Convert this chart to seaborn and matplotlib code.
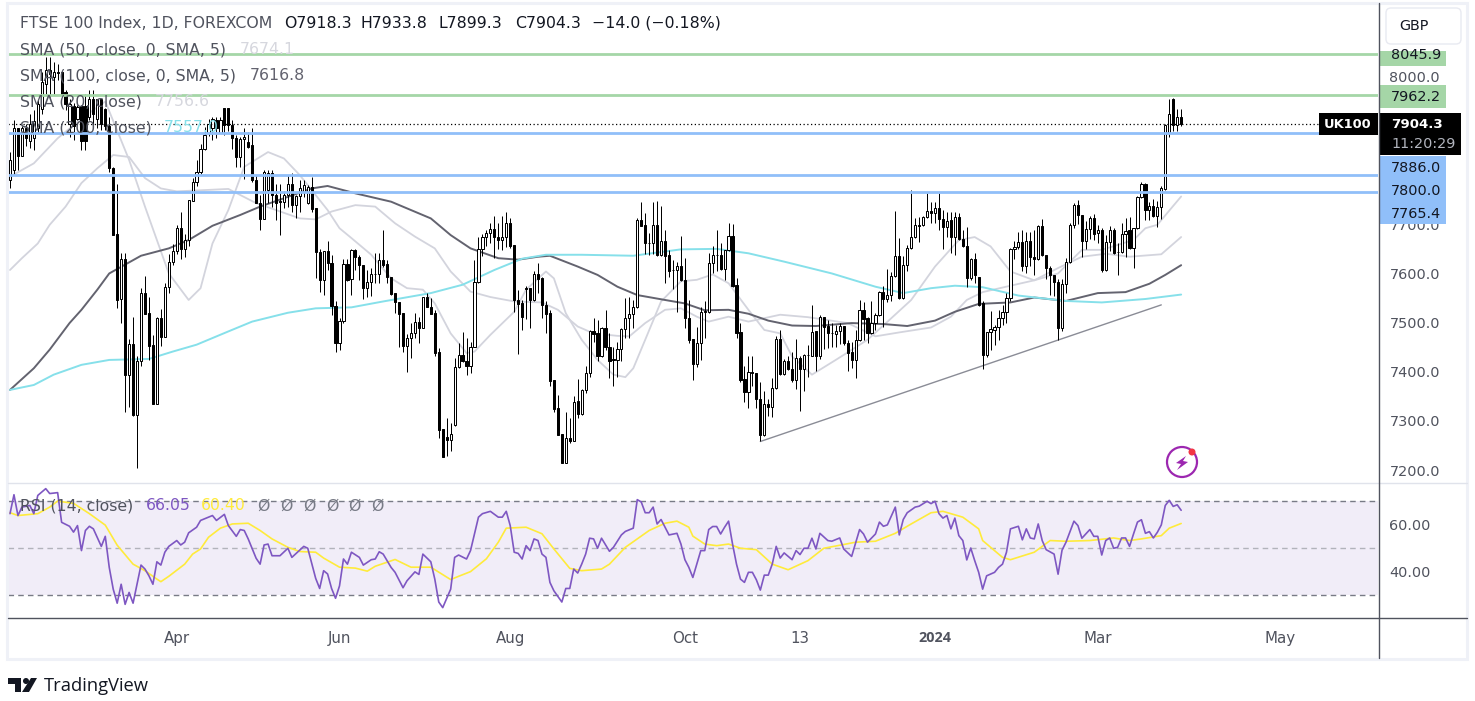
import matplotlib
matplotlib.use("Agg")
import matplotlib.pyplot as plt
from matplotlib.patches import Circle, FancyBboxPatch, Polygon, Rectangle
import seaborn as sns

# daily candles, one entry per bar
opens = [
    7790, 7810, 7895, 7840, 7895, 7870, 7875, 7895, 7935, 7985,
    8015, 8000, 8010, 8010, 7970, 7905, 7940, 7915, 7940, 7940,
    7918, 7955, 7915, 7955, 7935, 7900, 7815, 7680, 7548, 7629,
    7394, 7457, 7312, 7421, 7560, 7519, 7455, 7334, 7509, 7470,
    7572, 7623, 7645, 7692, 7649, 7668, 7748, 7786, 7807, 7854,
    7885, 7895, 7913, 7885, 7936, 7936, 7902, 7875, 7837, 7873,
    7868, 7861, 7790, 7743, 7710, 7770, 7805, 7760, 7747, 7746,
    7760, 7782, 7739, 7758, 7765, 7744, 7775, 7733, 7643, 7586,
    7645, 7621, 7533, 7458, 7504, 7619, 7588, 7647, 7633, 7617,
    7571, 7583, 7598, 7599, 7628, 7619, 7592, 7560, 7542, 7519,
    7453, 7468, 7478, 7501, 7489, 7552, 7531, 7519, 7440, 7283,
    7267, 7261, 7292, 7409, 7434, 7421, 7412, 7451, 7582, 7649,
    7674, 7682, 7690, 7674, 7668, 7674, 7702, 7657, 7546, 7539,
    7570, 7570, 7546, 7598, 7590, 7536, 7519, 7383, 7326, 7274,
    7215, 7265, 7260, 7341, 7314, 7362, 7397, 7483, 7478, 7432,
    7489, 7451, 7425, 7423, 7446, 7487, 7509, 7517, 7531, 7709,
    7698, 7662, 7661, 7699, 7638, 7666, 7637, 7607, 7606, 7615,
    7587, 7510, 7467, 7416, 7458, 7523, 7522, 7621, 7638, 7638,
    7610, 7648, 7676, 7576, 7480, 7385, 7358, 7399, 7397, 7344,
    7272, 7334, 7328, 7367, 7466, 7395, 7421, 7405, 7383, 7428,
    7405, 7435, 7433, 7482, 7433, 7511, 7493, 7479, 7477, 7482,
    7494, 7459, 7440, 7424, 7464, 7526, 7510, 7478, 7500, 7515,
    7562, 7548, 7556, 7594, 7636, 7551, 7617, 7651, 7675, 7698,
    7698, 7714, 7727, 7723, 7733, 7710, 7695, 7709, 7674, 7714,
    7670, 7656, 7590, 7630, 7592, 7539, 7434, 7480, 7485, 7491,
    7509, 7522, 7550, 7650, 7654, 7664, 7615, 7666, 7634, 7629,
    7697, 7638, 7611, 7596, 7582, 7489, 7578, 7624, 7699, 7739,
    7719, 7667, 7690, 7712, 7682, 7689, 7606, 7663, 7689, 7644,
    7643, 7680, 7689, 7651, 7692, 7755, 7782, 7729, 7738, 7716,
    7736, 7772, 7885, 7956, 7902, 7918.3,
]
highs = [
    7848, 7912, 7895, 7900, 7905, 7925, 7932, 7953, 8010, 8041,
    8041, 8030, 8027, 8010, 7974, 7956, 7946, 7942, 7942, 7966,
    7973, 7973, 7956, 7956, 7936, 7919, 7817, 7782, 7642, 7641,
    7466, 7511, 7432, 7570, 7594, 7552, 7475, 7512, 7528, 7581,
    7640, 7660, 7699, 7726, 7680, 7750, 7794, 7831, 7864, 7898,
    7915, 7919, 7919, 7919, 7936, 7936, 7912, 7881, 7878, 7895,
    7888, 7895, 7800, 7760, 7811, 7811, 7811, 7783, 7783, 7767,
    7800, 7805, 7760, 7790, 7790, 7780, 7797, 7733, 7649, 7645,
    7666, 7638, 7543, 7509, 7629, 7629, 7649, 7649, 7638, 7617,
    7607, 7611, 7641, 7641, 7689, 7628, 7592, 7560, 7542, 7519,
    7477, 7500, 7519, 7512, 7553, 7561, 7550, 7525, 7448, 7283,
    7306, 7295, 7428, 7458, 7480, 7468, 7461, 7628, 7675, 7680,
    7689, 7702, 7716, 7702, 7717, 7726, 7712, 7657, 7567, 7546,
    7574, 7570, 7604, 7622, 7593, 7543, 7526, 7383, 7353, 7274,
    7319, 7306, 7350, 7385, 7365, 7411, 7485, 7509, 7506, 7492,
    7525, 7478, 7451, 7461, 7489, 7550, 7552, 7546, 7712, 7746,
    7722, 7682, 7746, 7748, 7737, 7689, 7648, 7628, 7624, 7676,
    7631, 7546, 7467, 7492, 7531, 7543, 7641, 7655, 7689, 7661,
    7648, 7702, 7701, 7590, 7500, 7411, 7431, 7431, 7398, 7380,
    7360, 7345, 7387, 7472, 7485, 7425, 7431, 7441, 7466, 7431,
    7436, 7455, 7536, 7482, 7516, 7511, 7506, 7499, 7495, 7500,
    7494, 7465, 7460, 7484, 7545, 7541, 7512, 7543, 7519, 7564,
    7575, 7609, 7602, 7728, 7672, 7635, 7658, 7769, 7712, 7715,
    7716, 7763, 7746, 7746, 7763, 7729, 7726, 7725, 7726, 7723,
    7689, 7694, 7632, 7641, 7592, 7543, 7481, 7524, 7495, 7526,
    7535, 7561, 7652, 7665, 7685, 7689, 7685, 7685, 7688, 7699,
    7710, 7638, 7615, 7597, 7588, 7588, 7631, 7702, 7744, 7750,
    7719, 7706, 7716, 7720, 7699, 7692, 7678, 7697, 7692, 7661,
    7702, 7712, 7714, 7692, 7758, 7787, 7784, 7745, 7751, 7747,
    7778, 7905, 7956, 7958, 7934, 7933.8,
]
lows = [
    7773, 7803, 7810, 7838, 7860, 7855, 7851, 7885, 7925, 7966,
    7960, 7966, 7993, 7963, 7932, 7878, 7871, 7912, 7851, 7851,
    7912, 7898, 7895, 7892, 7892, 7807, 7678, 7529, 7500, 7319,
    7329, 7309, 7204, 7412, 7518, 7424, 7334, 7334, 7453, 7470,
    7560, 7617, 7640, 7629, 7634, 7656, 7748, 7777, 7803, 7851,
    7880, 7871, 7875, 7885, 7881, 7890, 7854, 7817, 7817, 7793,
    7855, 7786, 7743, 7689, 7710, 7743, 7736, 7708, 7678, 7733,
    7736, 7726, 7712, 7726, 7755, 7742, 7726, 7590, 7563, 7556,
    7607, 7516, 7441, 7444, 7499, 7584, 7556, 7607, 7587, 7548,
    7553, 7554, 7580, 7580, 7614, 7580, 7556, 7519, 7451, 7441,
    7400, 7428, 7468, 7459, 7489, 7531, 7518, 7431, 7266, 7226,
    7228, 7239, 7290, 7407, 7419, 7394, 7397, 7451, 7580, 7636,
    7655, 7661, 7631, 7650, 7647, 7653, 7651, 7522, 7436, 7485,
    7507, 7489, 7543, 7560, 7509, 7478, 7370, 7319, 7272, 7215,
    7215, 7255, 7258, 7306, 7312, 7356, 7390, 7461, 7421, 7430,
    7445, 7387, 7370, 7389, 7421, 7468, 7468, 7489, 7529, 7697,
    7640, 7638, 7640, 7636, 7636, 7581, 7592, 7568, 7522, 7584,
    7489, 7459, 7383, 7409, 7423, 7468, 7520, 7600, 7604, 7608,
    7586, 7646, 7573, 7468, 7380, 7339, 7326, 7370, 7326, 7258,
    7270, 7309, 7308, 7365, 7393, 7393, 7403, 7380, 7365, 7321,
    7360, 7390, 7431, 7402, 7426, 7446, 7448, 7451, 7450, 7456,
    7455, 7402, 7407, 7387, 7462, 7465, 7459, 7476, 7485, 7513,
    7492, 7541, 7543, 7592, 7548, 7549, 7604, 7649, 7673, 7663,
    7696, 7712, 7702, 7702, 7689, 7649, 7674, 7642, 7638, 7668,
    7653, 7573, 7587, 7580, 7533, 7405, 7430, 7445, 7455, 7465,
    7495, 7499, 7543, 7629, 7650, 7604, 7600, 7615, 7597, 7627,
    7636, 7588, 7556, 7554, 7465, 7482, 7560, 7622, 7692, 7700,
    7634, 7649, 7670, 7668, 7661, 7602, 7604, 7645, 7640, 7597,
    7642, 7634, 7650, 7611, 7690, 7753, 7709, 7709, 7714, 7694,
    7710, 7770, 7877, 7890, 7890, 7899.3,
]
closes = [
    7830, 7895, 7840, 7895, 7875, 7905, 7910, 7945, 7990, 8015,
    8005, 8010, 8008, 7965, 7945, 7945, 7900, 7938, 7870, 7870,
    7955, 7925, 7955, 7905, 7900, 7815, 7678, 7546, 7629, 7394,
    7457, 7312, 7422, 7560, 7518, 7453, 7334, 7509, 7470, 7572,
    7623, 7645, 7692, 7649, 7668, 7750, 7786, 7807, 7854, 7881,
    7905, 7915, 7895, 7912, 7902, 7902, 7875, 7837, 7873, 7878,
    7858, 7790, 7743, 7710, 7807, 7805, 7760, 7744, 7745, 7760,
    7782, 7739, 7758, 7773, 7780, 7775, 7731, 7643, 7586, 7645,
    7621, 7533, 7458, 7504, 7619, 7587, 7647, 7633, 7617, 7571,
    7583, 7598, 7599, 7628, 7617, 7592, 7558, 7541, 7518, 7453,
    7468, 7478, 7501, 7489, 7552, 7531, 7518, 7439, 7282, 7226,
    7261, 7274, 7409, 7434, 7421, 7412, 7451, 7582, 7649, 7674,
    7682, 7690, 7674, 7668, 7674, 7702, 7656, 7545, 7538, 7512,
    7568, 7546, 7598, 7589, 7535, 7518, 7382, 7325, 7272, 7215,
    7265, 7259, 7339, 7314, 7363, 7397, 7483, 7477, 7432, 7489,
    7450, 7421, 7424, 7446, 7487, 7509, 7517, 7531, 7709, 7697,
    7661, 7661, 7699, 7638, 7666, 7636, 7604, 7607, 7615, 7586,
    7509, 7465, 7416, 7458, 7521, 7522, 7621, 7638, 7637, 7610,
    7648, 7676, 7575, 7478, 7383, 7358, 7399, 7398, 7344, 7272,
    7334, 7328, 7367, 7466, 7395, 7421, 7405, 7383, 7428, 7405,
    7434, 7434, 7480, 7433, 7511, 7492, 7478, 7478, 7482, 7494,
    7459, 7439, 7424, 7464, 7526, 7508, 7478, 7500, 7515, 7562,
    7548, 7556, 7595, 7636, 7550, 7617, 7651, 7675, 7698, 7697,
    7714, 7727, 7723, 7733, 7710, 7695, 7706, 7674, 7714, 7670,
    7655, 7590, 7630, 7597, 7536, 7434, 7480, 7487, 7491, 7509,
    7522, 7550, 7650, 7654, 7664, 7615, 7666, 7634, 7629, 7697,
    7638, 7611, 7596, 7582, 7489, 7578, 7624, 7699, 7739, 7719,
    7667, 7690, 7712, 7680, 7689, 7606, 7663, 7689, 7641, 7643,
    7680, 7687, 7651, 7692, 7756, 7782, 7729, 7738, 7716, 7736,
    7773, 7902, 7925, 7902, 7918, 7904.3,
]

# moving averages: bar number and value at the bends of each line
sma20_bars = [0, 6, 12, 18, 24, 30, 34, 37, 40, 45, 48, 51, 55, 59, 65, 69, 73, 80, 83, 86, 91, 96, 100, 104,
              107, 111, 115, 117, 121, 127, 130, 135, 137, 140, 144, 148, 152, 155, 157, 160, 164, 169, 173,
              177, 181, 186, 190, 194, 197, 202, 208, 216, 222, 227, 233, 239, 243, 247, 252, 258, 264, 270,
              275, 283, 286, 289, 295]
sma20_vals = [7797, 7824, 7875, 7915, 7950, 7831, 7736, 7668, 7600, 7546, 7570, 7661, 7729, 7817, 7847, 7834, 7800,
              7729, 7692, 7672, 7638, 7590, 7570, 7567, 7539, 7478, 7438, 7441, 7475, 7522, 7567, 7604, 7590,
              7519, 7465, 7424, 7394, 7389, 7407, 7465, 7543, 7584, 7587, 7598, 7580, 7526, 7485, 7478, 7431,
              7394, 7424, 7465, 7509, 7546, 7614, 7668, 7674, 7655, 7604, 7586, 7600, 7648, 7648, 7668, 7692,
              7699, 7756.6]
sma50_bars = [0, 3, 7, 10, 14, 18, 22, 26, 30, 34, 38, 42, 50, 55, 62, 67, 73, 77, 81, 87, 92, 97, 102, 107, 111,
              116, 121, 127, 134, 138, 143, 147, 153, 156, 160, 165, 169, 173, 176, 181, 186, 194, 201, 211,
              218, 224, 232, 237, 241, 245, 252, 258, 264, 270, 276, 282, 290, 295]
sma50_vals = [7607, 7631, 7661, 7699, 7736, 7784, 7814, 7841, 7837, 7794, 7773, 7767, 7770, 7772, 7743, 7729, 7712,
              7710, 7726, 7739, 7736, 7702, 7675, 7651, 7604, 7563, 7552, 7543, 7541, 7526, 7492, 7478, 7473,
              7472, 7499, 7526, 7529, 7512, 7502, 7512, 7502, 7516, 7511, 7499, 7472, 7480, 7490, 7512, 7546,
              7562, 7575, 7586, 7611, 7634, 7640, 7634, 7639, 7674.1]
sma100_bars = [0, 6, 10, 15, 18, 22, 25, 33, 40, 45, 51, 58, 63, 69, 76, 80, 87, 96, 106, 111, 116, 123, 128, 133,
               136, 143, 148, 153, 158, 165, 170, 175, 181, 186, 191, 197, 203, 212, 220, 226, 233, 238, 244,
               252, 258, 266, 274, 281, 287, 291, 295]
sma100_vals = [7363, 7407, 7445, 7499, 7526, 7567, 7600, 7636, 7651, 7668, 7697, 7719, 7736, 7753, 7773, 7778, 7763,
               7746, 7712, 7678, 7651, 7631, 7628, 7634, 7636, 7614, 7597, 7573, 7556, 7546, 7539, 7525, 7526,
               7518, 7504, 7494, 7493, 7499, 7497, 7493, 7504, 7522, 7538, 7541, 7551, 7544, 7560, 7562, 7579,
               7597, 7616.8]
sma200_bars = [0, 6, 11, 18, 25, 35, 41, 47, 55, 61, 70, 77, 86, 94, 106, 114, 122, 129, 135, 144, 157, 169, 178,
               186, 195, 207, 218, 225, 232, 238, 245, 254, 266, 275, 286, 295]
sma200_vals = [7363, 7373, 7394, 7414, 7424, 7426, 7441, 7455, 7482, 7502, 7520, 7529, 7531, 7543, 7560, 7577, 7607,
               7630, 7638, 7638, 7636, 7649, 7650, 7641, 7624, 7600, 7573, 7560, 7570, 7575, 7572, 7555, 7544,
               7541, 7548, 7557.0]

rsi_bars = [0, 1, 2, 3, 5, 6, 7, 9, 10, 12, 13, 15, 16, 17, 18, 19, 20, 21, 23, 24, 25, 26, 27, 28, 29, 30, 31, 32,
            33, 34, 35, 36, 37, 38, 39, 40, 42, 43, 44, 45, 47, 48, 51, 52, 54, 55, 57, 58, 59, 60, 62, 63, 64, 65,
            66, 68, 70, 71, 74, 75, 77, 78, 79, 80, 81, 82, 83, 84, 85, 86, 88, 89, 91, 92, 93, 94, 96, 97, 99, 100,
            102, 103, 104, 106, 107, 108, 109, 111, 112, 113, 115, 116, 118, 119, 121, 123, 124, 125, 126, 127, 128,
            129, 130, 131, 132, 133, 134, 135, 136, 137, 139, 140, 141, 142, 143, 144, 145, 146, 147, 148, 149, 151,
            152, 154, 155, 157, 158, 159, 160, 161, 162, 163, 164, 166, 168, 169, 170, 171, 172, 173, 174, 175, 176,
            177, 178, 179, 180, 181, 182, 183, 184, 185, 186, 187, 188, 189, 190, 191, 192, 193, 194, 195, 197, 198,
            199, 200, 201, 202, 203, 204, 206, 207, 209, 210, 212, 214, 215, 216, 218, 219, 220, 221, 223, 224, 225,
            226, 228, 229, 231, 232, 233, 234, 235, 236, 237, 238, 239, 240, 241, 242, 243, 244, 245, 246, 248, 249,
            250, 251, 252, 254, 255, 256, 257, 258, 259, 260, 261, 263, 264, 265, 266, 268, 269, 270, 272, 273, 274,
            275, 276, 277, 278, 279, 280, 281, 282, 283, 284, 285, 286, 287, 288, 289, 290, 291, 292, 293, 294, 295]
rsi_vals = [64.6, 72.7, 63.8, 67.4, 68.1, 64.6, 72.4, 75.3, 73.2, 73.6, 60.9, 59.2, 56.7, 59.5, 48.8, 57.4, 59.2, 58.1,
            50.6, 54.9, 41.6, 32.3, 26.3, 34.4, 25.8, 30.9, 26.3, 34.4, 42.6, 40.9, 38.0, 34.4, 44.0, 42.6, 48.1, 50.6,
            53.1, 51.2, 52.4, 56.4, 58.8, 61.7, 63.8, 61.7, 64.3, 59.5, 54.9, 57.8, 57.4, 53.8, 45.5, 43.0, 51.2, 51.6,
            46.6, 46.6, 49.8, 45.9, 50.6, 49.8, 36.9, 32.6, 40.2, 38.8, 32.6, 28.4, 33.7, 45.2, 43.0, 48.1, 45.9, 42.6,
            44.9, 45.2, 48.3, 47.3, 41.6, 39.5, 32.9, 35.9, 39.7, 38.6, 47.3, 44.0, 36.6, 26.8, 24.4, 32.3, 45.9, 46.9,
            45.2, 48.8, 63.1, 64.6, 65.6, 63.1, 63.1, 65.6, 59.5, 48.1, 47.6, 45.2, 50.9, 48.8, 53.8, 53.1, 47.3, 45.9,
            35.2, 31.6, 26.8, 32.6, 32.6, 40.9, 39.2, 43.0, 47.3, 54.1, 53.8, 49.8, 54.1, 48.5, 50.2, 55.5, 57.0, 58.4,
            70.6, 69.6, 65.0, 65.0, 67.4, 60.2, 62.1, 55.5, 56.2, 51.6, 44.9, 41.6, 37.3, 43.0, 48.8, 48.8, 57.8, 59.1,
            59.1, 55.9, 58.8, 61.4, 51.6, 43.0, 36.6, 35.2, 39.5, 39.5, 36.3, 31.9, 38.3, 38.3, 43.0, 50.6, 45.6, 47.8,
            44.9, 48.8, 47.1, 49.8, 49.8, 54.1, 49.5, 56.2, 53.1, 52.8, 54.2, 49.5, 46.3, 57.8, 55.9, 52.4, 55.9, 61.0,
            59.2, 59.8, 67.4, 55.5, 62.1, 65.0, 67.4, 67.8, 69.9, 68.9, 69.9, 64.6, 62.7, 63.8, 58.1, 62.7, 55.2, 53.1,
            44.8, 49.9, 44.5, 39.5, 32.3, 38.0, 39.5, 41.6, 43.0, 48.1, 58.1, 59.2, 53.4, 58.1, 54.2, 53.8, 60.2, 53.1,
            49.2, 47.3, 38.7, 49.0, 52.4, 61.4, 59.5, 54.1, 57.8, 54.9, 54.9, 46.9, 53.1, 54.2, 49.8, 50.2, 54.2, 54.2,
            50.6, 55.9, 61.0, 62.0, 56.2, 56.9, 54.2, 56.6, 59.8, 68.1, 70.3, 67.7, 68.4, 66.05]
rsi_ma_bars = [0, 2, 7, 10, 12, 16, 20, 24, 27, 31, 34, 37, 38, 40, 44, 46, 48, 50, 53, 56, 60, 63, 66, 70, 73, 77,
               79, 83, 87, 90, 92, 97, 101, 106, 111, 113, 116, 120, 123, 125, 130, 134, 137, 141, 144, 149, 151,
               155, 158, 161, 165, 168, 171, 172, 175, 178, 181, 184, 188, 192, 196, 201, 205, 210, 213, 218, 223,
               227, 232, 235, 240, 244, 245, 250, 252, 258, 262, 266, 272, 278, 282, 285, 290, 292, 295]
rsi_ma_vals = [65.0, 63.8, 64.6, 67.4, 70.0, 69.0, 64.6, 59.7, 51.1, 43.0, 40.2, 36.6, 35.5, 37.8, 43.0, 47.3, 49.5,
               54.5, 58.4, 60.2, 60.5, 57.4, 53.8, 50.2, 48.4, 48.1, 45.6, 41.7, 41.3, 40.0, 42.1, 45.0, 41.7, 41.7,
               36.4, 37.8, 39.8, 45.3, 52.4, 58.4, 58.8, 56.0, 49.5, 41.2, 40.2, 40.9, 43.0, 50.2, 53.8, 57.4, 60.5,
               61.4, 58.8, 55.0, 51.6, 50.9, 51.6, 49.8, 49.2, 43.0, 40.6, 44.5, 49.8, 51.4, 52.4, 52.8, 56.2, 60.2,
               65.0, 65.6, 63.1, 58.1, 53.1, 45.9, 44.9, 48.1, 53.1, 52.8, 53.1, 54.2, 53.1, 53.8, 55.2, 58.4, 60.40]

# levels and trend line
green_levels = [8045.9, 7962.2]
blue_levels = [7886.0, 7800.0, 7765.4]
last_price = 7904.3
trend_bars = [189, 290]
trend_vals = [7258, 7536]

price_ticks = [7200, 7300, 7400, 7500, 7600, 7700, 8000]
rsi_ticks = [40, 60]
rsi_levels = [70, 50, 30]
time_ticks = [42, 83, 126, 170, 199, 233, 274, 320]
time_labels = ["Apr", "Jun", "Aug", "Oct", "13", "2024", "Mar", "May"]

sns.set_theme(style="white")
plt.rcParams["font.family"] = ["DejaVu Sans"]

W, H = 1475, 701
GREY = "#50535e"
LEGEND_SIZE = 11.3
AXIS_SIZE = 10.4
fig = plt.figure(figsize=(W / 100, H / 100), dpi=100, facecolor="white")


def px_axes(left, top, right, bottom):
    return fig.add_axes([left / W, 1 - bottom / H, (right - left) / W, (bottom - top) / H])


# bar b sits at pixel 10 + 3.97 * b
bar_lim = ((8 - 10) / 3.97, (1378 - 10) / 3.97)

ax = px_axes(8, 6, 1378, 482)
ax_rsi = px_axes(8, 482, 1378, 617)

# price panel
for bars, vals, col, lw in [
    (sma20_bars, sma20_vals, "#d3d4dd", 1.3),
    (sma50_bars, sma50_vals, "#d3d4dd", 1.3),
    (sma100_bars, sma100_vals, "#63636f", 1.4),
    (sma200_bars, sma200_vals, "#86e0ea", 1.4),
]:
    sns.lineplot(x=bars, y=vals, ax=ax, color=col, linewidth=lw, estimator=None, sort=False, zorder=2)
sns.lineplot(x=trend_bars, y=trend_vals, ax=ax, color="#8a8c96", linewidth=1.0, estimator=None, zorder=2)

bars_all = list(range(len(opens)))
ax.vlines(bars_all, lows, highs, color="black", linewidth=0.72, zorder=3)
body_bottom = [min(o, c) for o, c in zip(opens, closes)]
body_height = [max(abs(c - o), 1.0) for o, c in zip(opens, closes)]
body_face = ["white" if c >= o else "black" for o, c in zip(opens, closes)]
ax.bar(bars_all, body_height, bottom=body_bottom, width=0.55, color=body_face, edgecolor="black",
       linewidth=0.72, zorder=4)

ax.axhline(last_price, color="black", linewidth=0.9, linestyle=(0, (1, 2)), zorder=5)
for lev in green_levels:
    ax.axhline(lev, color="#a5d6a7", linewidth=2.0, zorder=6)
for lev in blue_levels:
    ax.axhline(lev, color="#90bff9", linewidth=2.0, zorder=6)

ax.set_xlim(bar_lim)
ax.set_ylim(7200 + (470 - 482) * 2.035, 7200 + (470 - 6) * 2.035)
ax.set_xticks([])
ax.set_yticks(price_ticks)
ax.set_yticklabels([f"{t:.1f}" for t in price_ticks])
ax.yaxis.tick_right()
ax.tick_params(axis="y", length=0, pad=8.2, labelsize=AXIS_SIZE, labelcolor=GREY)
ax.set_xlabel("")
ax.set_ylabel("")

# RSI panel
ax_rsi.axhspan(30, 70, color="#7e57c2", alpha=0.1, linewidth=0, zorder=1)
for lev, col in zip(rsi_levels, ["#787b86", "#b2b3bb", "#787b86"]):
    ax_rsi.axhline(lev, color=col, linewidth=1.0, linestyle=(0, (4, 3)), zorder=2)
sns.lineplot(x=rsi_ma_bars, y=rsi_ma_vals, ax=ax_rsi, color="#ffeb3b", linewidth=1.2, estimator=None, zorder=3)
sns.lineplot(x=rsi_bars, y=rsi_vals, ax=ax_rsi, color="#7e57c2", linewidth=1.2, estimator=None, zorder=4)
ax_rsi.set_xlim(bar_lim)
ax_rsi.set_ylim(50 - 68.7 / 2.32, 50 + 65.3 / 2.32)
ax_rsi.set_yticks(rsi_ticks)
ax_rsi.set_yticklabels([f"{t:.2f}" for t in rsi_ticks])
ax_rsi.yaxis.tick_right()
ax_rsi.tick_params(axis="y", length=0, pad=8.2, labelsize=AXIS_SIZE, labelcolor=GREY)
ax_rsi.set_xticks(time_ticks)
ax_rsi.set_xticklabels(time_labels)
ax_rsi.tick_params(axis="x", length=0, pad=10, labelsize=AXIS_SIZE + 0.4, labelcolor=GREY)
year_label = ax_rsi.get_xticklabels()[5]
year_label.set_fontweight("bold")
year_label.set_fontfamily("Open Sans")
year_label.set_fontsize(10.4)
ax_rsi.set_xlabel("")
ax_rsi.set_ylabel("")

for a in (ax, ax_rsi):
    a.patch.set_alpha(0)
    for side in a.spines:
        a.spines[side].set_visible(False)

# overlay in pixel coordinates for the frame, labels and legend
ov = fig.add_axes([0, 0, 1, 1], zorder=20)
ov.set_xlim(0, W)
ov.set_ylim(H, 0)
ov.axis("off")
ov.patch.set_alpha(0)

ov.add_patch(Rectangle((6.5, 2.5), 1460, 656.5, fill=False, edgecolor="#eff1f7", linewidth=2.2))
ov.plot([8, 1467], [482.5, 482.5], color="#e0e3eb", linewidth=1.0)
ov.plot([8, 1467], [617.5, 617.5], color="#50535e", linewidth=1.0)
ov.plot([1378.5, 1378.5], [3, 658], color="#50535e", linewidth=1.0)

ov.add_patch(FancyBboxPatch((1386, 8), 75, 36, boxstyle="round,pad=0,rounding_size=5", facecolor="white",
                            edgecolor="#e8eaf1", linewidth=1.0))
ov.text(1414, 26, "GBP", fontsize=AXIS_SIZE, color="#131722", ha="center", va="center")

# price labels
ov.add_patch(Rectangle((1379, 51), 67, 14.5, color="#a5d6a7", linewidth=0))
ov.add_patch(Rectangle((1379, 85), 67, 23, color="#a5d6a7", linewidth=0))
ov.add_patch(Rectangle((1379, 156), 67, 68, color="#90bff9", linewidth=0))
ov.add_patch(Rectangle((1379, 113), 82, 42, color="black", linewidth=0))
ov.add_patch(Rectangle((1319, 113), 59, 22, color="black", linewidth=0))
for y, s in [(55, "8045.9"), (97, "7962.2"), (168, "7886.0"), (191, "7800.0"), (214, "7765.4")]:
    ov.text(1391, y, s, fontsize=AXIS_SIZE, color="#131722", ha="left", va="center")
ov.text(1391, 125, "7904.3", fontsize=9.6, color="white", fontweight="bold", ha="left", va="center")
ov.text(1391, 144, "11:20:29", fontsize=AXIS_SIZE, color="#b2b5be", ha="left", va="center")
ov.text(1348, 125, "UK100", fontsize=9.4, color="white", fontweight="bold", ha="center", va="center")

# legend rows
ov.text(20, 23, "FTSE 100 Index, 1D, FOREXCOM", fontsize=LEGEND_SIZE, color=GREY, va="center")
for x, s in [(284, "O7918.3"), (361, "H7933.8"), (438, "L7899.3"), (515, "C7904.3"), (592, "\u221214.0 (\u22120.18%)")]:
    ov.text(x, 23, s, fontsize=LEGEND_SIZE, color="#131722", va="center")
for y, s, x, v, c in [
    (50, "SMA (50, close, 0, SMA, 5)", 240, "7674.1", "#d6d7de"),
    (76, "SMA (100, close, 0, SMA, 5)", 250, "7616.8", "#63636f"),
    (102, "SMA (20, close)", 155, "7756.6", "#d6d7de"),
    (128, "SMA (200, close)", 164, "7557.0", "#86e0ea"),
]:
    ov.text(20, y, s, fontsize=LEGEND_SIZE, color=GREY, va="center")
    ov.text(x, y, v, fontsize=LEGEND_SIZE, color=c, va="center")
ov.text(20, 506, "RSI (14, close)", fontsize=LEGEND_SIZE, color=GREY, va="center")
ov.text(146, 506, "66.05", fontsize=LEGEND_SIZE, color="#7e57c2", va="center")
ov.text(201, 506, "60.40", fontsize=LEGEND_SIZE, color="#ffeb3b", va="center")
for x in [257, 280, 303, 326, 348, 371]:
    ov.text(x, 506, "\u00d8", fontsize=LEGEND_SIZE, color="#787b86", va="center")

# lightning icon
ov.add_patch(Circle((1182, 462), 15, fill=False, edgecolor="#9c27b0", linewidth=1.6))
ov.add_patch(Circle((1192, 452), 3.5, color="#f23645", linewidth=0))
ov.add_patch(Polygon([(1186, 456), (1176, 463), (1181, 464), (1177, 470), (1188, 462), (1183, 461)],
                     color="#9c27b0", linewidth=0))

# TradingView mark
ov.add_patch(Rectangle((8, 678), 13, 6, color="#131722", linewidth=0))
ov.add_patch(Rectangle((15, 678), 6, 14, color="#131722", linewidth=0))
ov.add_patch(Circle((26, 681), 3, color="#131722", linewidth=0))
ov.add_patch(Polygon([(31, 678), (37, 678), (29, 692), (22, 692)], color="#131722", linewidth=0))
ov.text(44, 686, "TradingView", fontsize=13.2, color="#131722", va="center", family="Open Sans")

fig.savefig("out.png", dpi=100)
